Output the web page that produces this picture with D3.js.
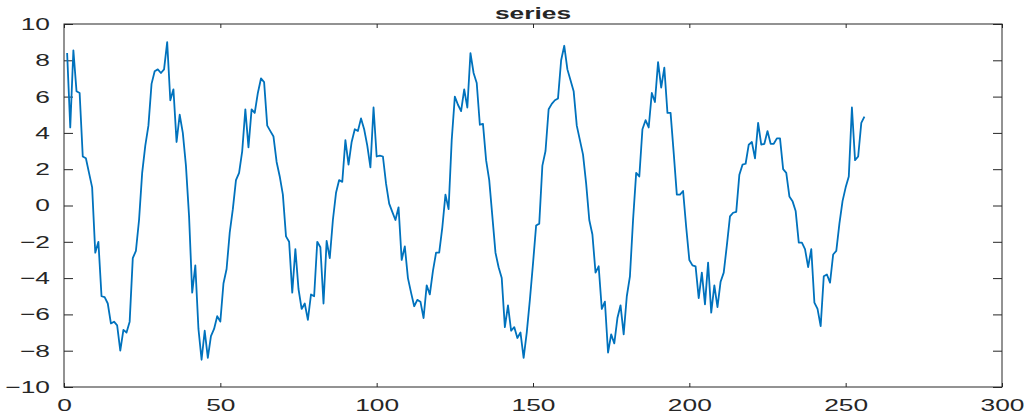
<!DOCTYPE html>
<html>
<head>
<meta charset="utf-8">
<script src="https://cdn.jsdelivr.net/npm/d3@7"></script>
<style>
  body { margin: 0; background: #fff; }
  text { font-family: "Liberation Sans", Arial, sans-serif; fill: #262626; }
</style>
</head>
<body>
<div id="plot"></div>
<script>
// series values, x = 1..256
const seriesY = [
  8.4, 4.3, 8.55, 6.3, 6.2, 2.7, 2.6, 1.8, 1.0, -2.6,
  -2.0, -5.0, -5.05, -5.4, -6.5, -6.4, -6.6, -8.0, -6.85, -7.0,
  -6.4, -2.9, -2.5, -0.8, 1.8, 3.3, 4.4, 6.7, 7.4, 7.5,
  7.3, 7.5, 9.0, 5.8, 6.4, 3.5, 5.0, 4.0, 2.2, -0.6,
  -4.8, -3.3, -6.8, -8.5, -6.9, -8.4, -7.2, -6.8, -6.1, -6.4,
  -4.3, -3.5, -1.5, -0.2, 1.4, 1.8, 3.0, 5.3, 3.2, 5.3,
  5.1, 6.2, 7.0, 6.8, 4.4, 4.1, 3.8, 2.4, 1.6, 0.6,
  -1.7, -2.0, -4.8, -2.4, -4.6, -5.7, -5.4, -6.3, -4.9, -5.0,
  -2.0, -2.3, -5.4, -1.95, -2.9, -0.8, 0.7, 1.4, 1.3, 3.6,
  2.25, 3.5, 4.2, 4.1, 4.8, 4.2, 3.3, 2.1, 5.4, 2.7,
  2.75, 2.7, 1.2, 0.1, -0.35, -0.8, -0.1, -3.0, -2.25, -4.0,
  -4.8, -5.55, -5.2, -5.3, -6.2, -4.4, -4.9, -3.6, -2.6, -2.6,
  -1.2, 0.6, -0.2, 3.6, 6.0, 5.55, 5.2, 6.4, 5.4, 8.4,
  7.3, 6.75, 4.45, 4.5, 2.5, 1.4, -0.6, -2.6, -3.4, -4.0,
  -6.7, -5.5, -6.9, -6.7, -7.3, -7.0, -8.4, -7.0, -5.2, -3.2,
  -1.1, -1.0, 2.2, 3.0, 5.3, 5.6, 5.8, 5.9, 8.0, 8.8,
  7.5, 6.9, 6.3, 4.4, 3.6, 2.8, 1.2, -0.8, -1.6, -3.7,
  -3.35, -5.7, -5.3, -8.1, -7.1, -7.6, -6.2, -5.5, -7.1, -5.0,
  -3.9, -0.8, 1.8, 1.6, 4.2, 4.7, 4.3, 6.2, 5.7, 7.9,
  6.5, 7.6, 5.1, 5.1, 2.9, 0.6, 0.6, 0.8, -1.2, -3.0,
  -3.3, -3.35, -5.1, -3.7, -5.45, -3.15, -5.9, -4.4, -5.6, -4.2,
  -3.7, -2.2, -0.6, -0.4, -0.35, 1.7, 2.25, 2.3, 3.35, 3.5,
  2.6, 4.55, 3.35, 3.4, 4.1, 3.4, 3.4, 3.7, 3.7, 2.0,
  1.8, 0.5, 0.24, -0.3, -2.05, -2.05, -2.4, -3.4, -2.4, -5.35,
  -5.7, -6.65, -3.9, -3.8, -4.25, -2.7, -2.5, -1.0, 0.24, 1.0,
  1.6, 5.4, 2.5, 2.7, 4.55, 4.9
];
const seriesX = seriesY.map((d, i) => i + 1);

const xTicks = [0, 50, 100, 150, 200, 250, 300];
const yTicks = [-10, -8, -6, -4, -2, 0, 2, 4, 6, 8, 10];
const titleText = 'series';

function plot() {
    var margin = { top: 24, right: 28, bottom: 30, left: 64 },
        width = 1030 - margin.left - margin.right,
        height = 417 - margin.top - margin.bottom;

    var stretch = 1.55; // glyphs in the picture are drawn wide

    var svg = d3.select('#plot').append('svg')
        .attr('width', width + margin.left + margin.right)
        .attr('height', height + margin.top + margin.bottom)
      .append('g')
        .attr('transform', `translate(${margin.left},${margin.top})`);

    var x = d3.scaleLinear()
                .domain([0, 300])
                .range([0, width]);
    var y = d3.scaleLinear()
                .domain([-10, 10])
                .range([height, 0]);

    function styleAxis(g, showText) {
        g.select('.domain').remove();
        g.selectAll('.tick line').attr('stroke', '#262626');
        if (!showText) g.selectAll('.tick text').remove();
        g.selectAll('.tick text')
            .attr('font-size', 17)
            .attr('transform', `scale(${stretch},1)`);
    }

    svg.append('g')
        .call(d3.axisLeft(y).tickValues(yTicks).tickSize(-9).tickPadding(14 / stretch))
        .call(g => styleAxis(g, true));
    svg.append('g')
        .attr('transform', `translate(${width},0)`)
        .call(d3.axisRight(y).tickValues(yTicks).tickSize(-9))
        .call(g => styleAxis(g, false));
    svg.append('g')
        .attr('transform', `translate(0,${height})`)
        .call(d3.axisBottom(x).tickValues(xTicks).tickSize(-4).tickPadding(12))
        .call(g => styleAxis(g, true));
    svg.append('g')
        .call(d3.axisTop(x).tickValues(xTicks).tickSize(-4))
        .call(g => styleAxis(g, false));

    svg.selectAll('.tick text').attr('font-family', '"Liberation Sans", Arial, sans-serif');

    svg.append('rect')
        .attr('x', 0).attr('y', 0)
        .attr('width', width).attr('height', height)
        .attr('fill', 'none')
        .attr('stroke', '#262626')
        .attr('stroke-width', 1);

    var line = d3.line()
                .x((d, i) => x(seriesX[i]))
                .y(d => y(d));

    svg.append('path')
        .attr('fill', 'none')
        .attr('stroke', '#0072BD')
        .attr('stroke-width', 1.8)
        .attr('stroke-linejoin', 'round')
        .attr('d', line(seriesY));

    svg.append('text')
        .attr('transform', `translate(${width / 2},${-5}) scale(${stretch},1)`)
        .attr('text-anchor', 'middle')
        .attr('font-size', 17)
        .attr('font-weight', 'bold')
        .text(titleText);
}

plot();
</script>
</body>
</html>
